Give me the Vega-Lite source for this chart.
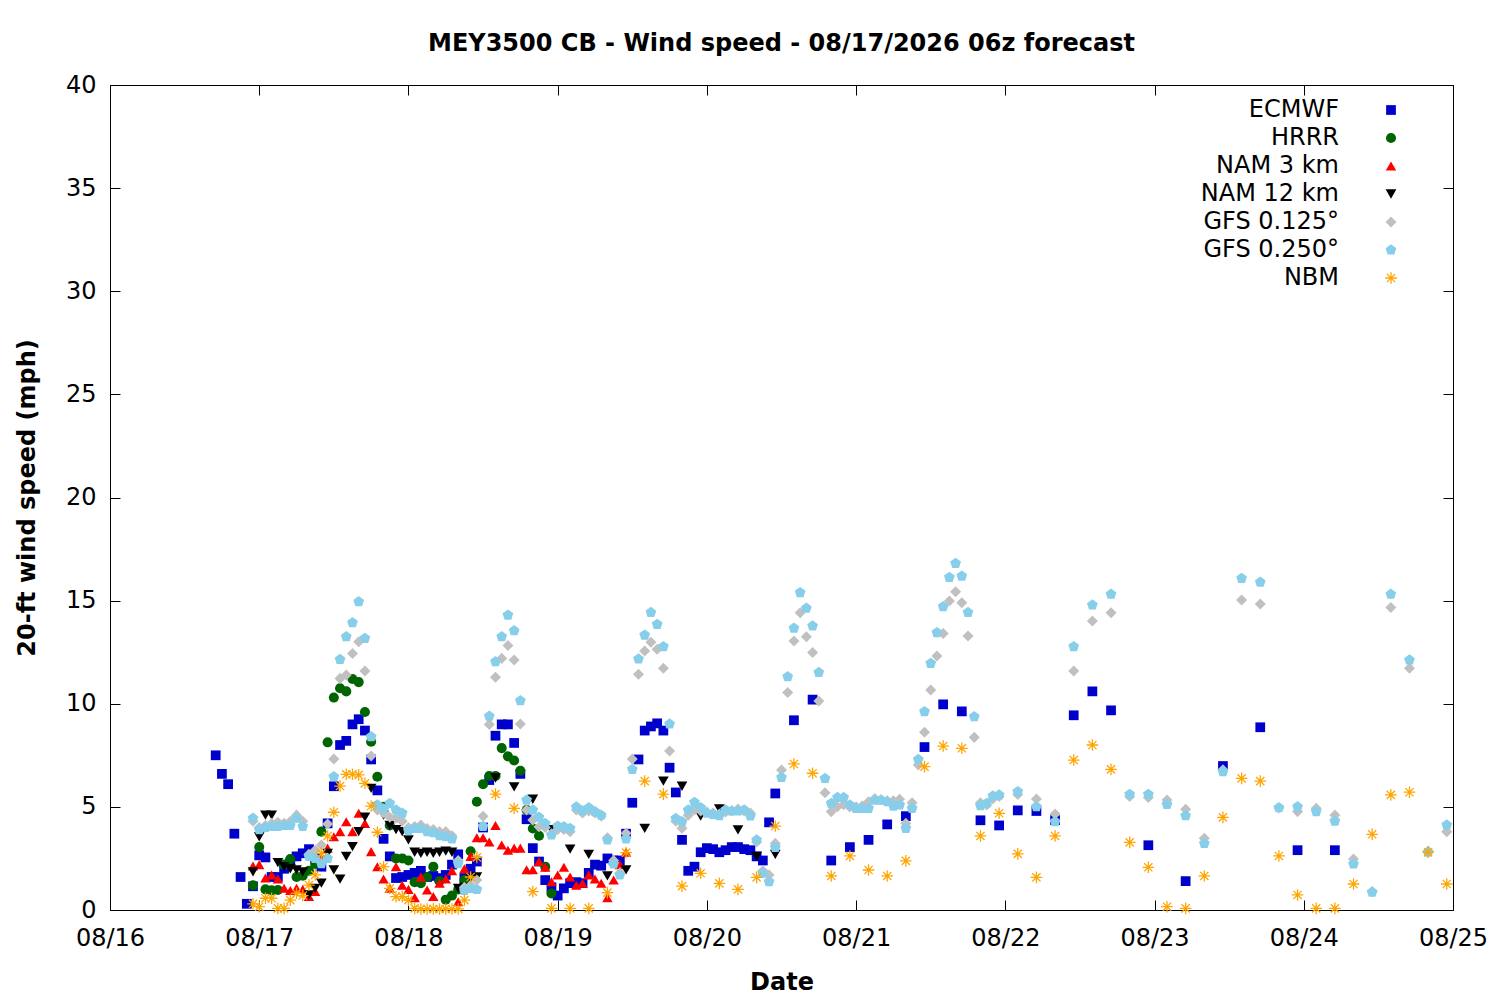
{
  "$schema": "https://vega.github.io/schema/vega-lite/v6.json",
  "width": 1343,
  "height": 825,
  "autosize": {"type": "none"},
  "padding": {"left": 110, "top": 85, "right": 47, "bottom": 90},
  "background": "white",
  "title": {"text": "MEY3500 CB - Wind speed - 08/17/2026 06z forecast", "font": "DejaVu Sans", "fontSize": 24, "fontWeight": "bold", "color": "black", "anchor": "middle", "offset": 17},
  "config": {
    "font": "DejaVu Sans",
    "view": {"stroke": "black", "strokeWidth": 1},
    "axis": {"labelFont": "DejaVu Sans", "labelFontSize": 24, "labelColor": "black", "titleFont": "DejaVu Sans", "titleFontSize": 24, "titleFontWeight": "bold", "titleColor": "black", "grid": false, "domain": false, "tickColor": "black", "tickSize": -10, "tickWidth": 1}
  },
  "data": {
    "format": {"parse": {"t": "utc:'%Y-%m-%d %H'"}},
    "values": [
      {"m":"ECMWF","t":"2026-08-16 17","v":7.5},{"m":"ECMWF","t":"2026-08-16 18","v":6.6},{"m":"ECMWF","t":"2026-08-16 19","v":6.1},{"m":"ECMWF","t":"2026-08-16 20","v":3.7},{"m":"ECMWF","t":"2026-08-16 21","v":1.6},{"m":"ECMWF","t":"2026-08-16 22","v":0.3},{"m":"ECMWF","t":"2026-08-16 23","v":1.15},
      {"m":"ECMWF","t":"2026-08-17 00","v":2.65},{"m":"ECMWF","t":"2026-08-17 01","v":2.55},{"m":"ECMWF","t":"2026-08-17 02","v":1.6},{"m":"ECMWF","t":"2026-08-17 03","v":1.6},{"m":"ECMWF","t":"2026-08-17 04","v":2.0},{"m":"ECMWF","t":"2026-08-17 05","v":2.3},{"m":"ECMWF","t":"2026-08-17 06","v":2.6},{"m":"ECMWF","t":"2026-08-17 07","v":2.75},{"m":"ECMWF","t":"2026-08-17 08","v":2.95},{"m":"ECMWF","t":"2026-08-17 09","v":2.5},{"m":"ECMWF","t":"2026-08-17 10","v":2.1},{"m":"ECMWF","t":"2026-08-17 11","v":4.2},{"m":"ECMWF","t":"2026-08-17 12","v":6.0},{"m":"ECMWF","t":"2026-08-17 13","v":8.0},{"m":"ECMWF","t":"2026-08-17 14","v":8.2},{"m":"ECMWF","t":"2026-08-17 15","v":9.0},{"m":"ECMWF","t":"2026-08-17 16","v":9.25},{"m":"ECMWF","t":"2026-08-17 17","v":8.7},{"m":"ECMWF","t":"2026-08-17 18","v":7.3},{"m":"ECMWF","t":"2026-08-17 19","v":5.8},{"m":"ECMWF","t":"2026-08-17 20","v":3.45},{"m":"ECMWF","t":"2026-08-17 21","v":2.6},{"m":"ECMWF","t":"2026-08-17 22","v":1.55},{"m":"ECMWF","t":"2026-08-17 23","v":1.6},
      {"m":"ECMWF","t":"2026-08-18 00","v":1.7},{"m":"ECMWF","t":"2026-08-18 01","v":1.8},{"m":"ECMWF","t":"2026-08-18 02","v":1.9},{"m":"ECMWF","t":"2026-08-18 03","v":1.6},{"m":"ECMWF","t":"2026-08-18 04","v":1.65},{"m":"ECMWF","t":"2026-08-18 05","v":1.55},{"m":"ECMWF","t":"2026-08-18 06","v":1.7},{"m":"ECMWF","t":"2026-08-18 07","v":2.2},{"m":"ECMWF","t":"2026-08-18 08","v":2.7},{"m":"ECMWF","t":"2026-08-18 09","v":1.55},{"m":"ECMWF","t":"2026-08-18 10","v":2.0},{"m":"ECMWF","t":"2026-08-18 11","v":2.35},{"m":"ECMWF","t":"2026-08-18 12","v":4.0},{"m":"ECMWF","t":"2026-08-18 13","v":6.3},{"m":"ECMWF","t":"2026-08-18 14","v":8.45},{"m":"ECMWF","t":"2026-08-18 15","v":9.0},{"m":"ECMWF","t":"2026-08-18 16","v":9.0},{"m":"ECMWF","t":"2026-08-18 17","v":8.1},{"m":"ECMWF","t":"2026-08-18 18","v":6.6},{"m":"ECMWF","t":"2026-08-18 19","v":4.4},{"m":"ECMWF","t":"2026-08-18 20","v":3.0},{"m":"ECMWF","t":"2026-08-18 21","v":2.35},{"m":"ECMWF","t":"2026-08-18 22","v":1.45},{"m":"ECMWF","t":"2026-08-18 23","v":1.1},
      {"m":"ECMWF","t":"2026-08-19 00","v":0.7},{"m":"ECMWF","t":"2026-08-19 01","v":1.05},{"m":"ECMWF","t":"2026-08-19 02","v":1.3},{"m":"ECMWF","t":"2026-08-19 03","v":1.35},{"m":"ECMWF","t":"2026-08-19 04","v":1.3},{"m":"ECMWF","t":"2026-08-19 05","v":1.8},{"m":"ECMWF","t":"2026-08-19 06","v":2.2},{"m":"ECMWF","t":"2026-08-19 07","v":2.15},{"m":"ECMWF","t":"2026-08-19 08","v":2.5},{"m":"ECMWF","t":"2026-08-19 09","v":2.4},{"m":"ECMWF","t":"2026-08-19 10","v":2.4},{"m":"ECMWF","t":"2026-08-19 11","v":3.7},{"m":"ECMWF","t":"2026-08-19 12","v":5.2},{"m":"ECMWF","t":"2026-08-19 13","v":7.3},{"m":"ECMWF","t":"2026-08-19 14","v":8.7},{"m":"ECMWF","t":"2026-08-19 15","v":8.9},{"m":"ECMWF","t":"2026-08-19 16","v":9.05},{"m":"ECMWF","t":"2026-08-19 17","v":8.7},{"m":"ECMWF","t":"2026-08-19 18","v":6.9},{"m":"ECMWF","t":"2026-08-19 19","v":5.7},{"m":"ECMWF","t":"2026-08-19 20","v":3.4},{"m":"ECMWF","t":"2026-08-19 21","v":1.9},{"m":"ECMWF","t":"2026-08-19 22","v":2.1},{"m":"ECMWF","t":"2026-08-19 23","v":2.8},
      {"m":"ECMWF","t":"2026-08-20 00","v":3.0},{"m":"ECMWF","t":"2026-08-20 01","v":2.95},{"m":"ECMWF","t":"2026-08-20 02","v":2.8},{"m":"ECMWF","t":"2026-08-20 03","v":2.9},{"m":"ECMWF","t":"2026-08-20 04","v":3.05},{"m":"ECMWF","t":"2026-08-20 05","v":3.05},{"m":"ECMWF","t":"2026-08-20 06","v":2.95},{"m":"ECMWF","t":"2026-08-20 07","v":2.9},{"m":"ECMWF","t":"2026-08-20 08","v":2.6},{"m":"ECMWF","t":"2026-08-20 09","v":2.4},{"m":"ECMWF","t":"2026-08-20 10","v":4.25},{"m":"ECMWF","t":"2026-08-20 11","v":5.65},{"m":"ECMWF","t":"2026-08-20 14","v":9.2},{"m":"ECMWF","t":"2026-08-20 17","v":10.2},{"m":"ECMWF","t":"2026-08-20 20","v":2.4},{"m":"ECMWF","t":"2026-08-20 23","v":3.05},
      {"m":"ECMWF","t":"2026-08-21 02","v":3.4},{"m":"ECMWF","t":"2026-08-21 05","v":4.15},{"m":"ECMWF","t":"2026-08-21 08","v":4.55},{"m":"ECMWF","t":"2026-08-21 11","v":7.9},{"m":"ECMWF","t":"2026-08-21 14","v":9.97},{"m":"ECMWF","t":"2026-08-21 17","v":9.63},{"m":"ECMWF","t":"2026-08-21 20","v":4.35},{"m":"ECMWF","t":"2026-08-21 23","v":4.1},
      {"m":"ECMWF","t":"2026-08-22 02","v":4.83},{"m":"ECMWF","t":"2026-08-22 05","v":4.8},{"m":"ECMWF","t":"2026-08-22 08","v":4.36},{"m":"ECMWF","t":"2026-08-22 11","v":9.44},{"m":"ECMWF","t":"2026-08-22 14","v":10.6},{"m":"ECMWF","t":"2026-08-22 17","v":9.68},{"m":"ECMWF","t":"2026-08-22 23","v":3.14},
      {"m":"ECMWF","t":"2026-08-23 05","v":1.4},{"m":"ECMWF","t":"2026-08-23 11","v":6.98},{"m":"ECMWF","t":"2026-08-23 17","v":8.86},{"m":"ECMWF","t":"2026-08-23 23","v":2.9},{"m":"ECMWF","t":"2026-08-24 05","v":2.9},

      {"m":"HRRR","t":"2026-08-16 23","v":1.2},{"m":"HRRR","t":"2026-08-17 00","v":3.05},{"m":"HRRR","t":"2026-08-17 01","v":1.0},{"m":"HRRR","t":"2026-08-17 02","v":0.95},{"m":"HRRR","t":"2026-08-17 03","v":0.97},{"m":"HRRR","t":"2026-08-17 04","v":2.2},{"m":"HRRR","t":"2026-08-17 05","v":2.47},{"m":"HRRR","t":"2026-08-17 06","v":1.6},{"m":"HRRR","t":"2026-08-17 07","v":1.66},{"m":"HRRR","t":"2026-08-17 08","v":1.9},{"m":"HRRR","t":"2026-08-17 09","v":2.23},{"m":"HRRR","t":"2026-08-17 10","v":3.8},{"m":"HRRR","t":"2026-08-17 11","v":8.13},{"m":"HRRR","t":"2026-08-17 12","v":10.3},{"m":"HRRR","t":"2026-08-17 13","v":10.75},{"m":"HRRR","t":"2026-08-17 14","v":10.6},{"m":"HRRR","t":"2026-08-17 15","v":11.2},{"m":"HRRR","t":"2026-08-17 16","v":11.05},{"m":"HRRR","t":"2026-08-17 17","v":9.6},{"m":"HRRR","t":"2026-08-17 18","v":8.16},{"m":"HRRR","t":"2026-08-17 19","v":6.46},{"m":"HRRR","t":"2026-08-17 20","v":5.0},{"m":"HRRR","t":"2026-08-17 21","v":4.1},{"m":"HRRR","t":"2026-08-17 22","v":2.5},{"m":"HRRR","t":"2026-08-17 23","v":2.5},
      {"m":"HRRR","t":"2026-08-18 00","v":2.4},{"m":"HRRR","t":"2026-08-18 01","v":1.35},{"m":"HRRR","t":"2026-08-18 02","v":1.3},{"m":"HRRR","t":"2026-08-18 03","v":1.6},{"m":"HRRR","t":"2026-08-18 04","v":2.1},{"m":"HRRR","t":"2026-08-18 05","v":1.4},{"m":"HRRR","t":"2026-08-18 06","v":0.5},{"m":"HRRR","t":"2026-08-18 07","v":0.7},{"m":"HRRR","t":"2026-08-18 08","v":1.0},{"m":"HRRR","t":"2026-08-18 09","v":1.45},{"m":"HRRR","t":"2026-08-18 10","v":2.85},{"m":"HRRR","t":"2026-08-18 11","v":5.25},{"m":"HRRR","t":"2026-08-18 12","v":6.1},{"m":"HRRR","t":"2026-08-18 13","v":6.5},{"m":"HRRR","t":"2026-08-18 14","v":6.5},{"m":"HRRR","t":"2026-08-18 15","v":7.85},{"m":"HRRR","t":"2026-08-18 16","v":7.45},{"m":"HRRR","t":"2026-08-18 17","v":7.25},{"m":"HRRR","t":"2026-08-18 18","v":6.75},{"m":"HRRR","t":"2026-08-18 19","v":4.85},{"m":"HRRR","t":"2026-08-18 20","v":3.95},{"m":"HRRR","t":"2026-08-18 21","v":3.6},{"m":"HRRR","t":"2026-08-18 22","v":2.1},{"m":"HRRR","t":"2026-08-18 23","v":0.8},

      {"m":"NAM 3 km","t":"2026-08-16 23","v":2.13},{"m":"NAM 3 km","t":"2026-08-17 00","v":2.2},{"m":"NAM 3 km","t":"2026-08-17 01","v":1.55},{"m":"NAM 3 km","t":"2026-08-17 02","v":1.7},{"m":"NAM 3 km","t":"2026-08-17 03","v":1.5},{"m":"NAM 3 km","t":"2026-08-17 04","v":1.05},{"m":"NAM 3 km","t":"2026-08-17 05","v":0.95},{"m":"NAM 3 km","t":"2026-08-17 06","v":1.05},{"m":"NAM 3 km","t":"2026-08-17 07","v":1.0},{"m":"NAM 3 km","t":"2026-08-17 08","v":0.65},{"m":"NAM 3 km","t":"2026-08-17 09","v":0.9},{"m":"NAM 3 km","t":"2026-08-17 10","v":2.5},{"m":"NAM 3 km","t":"2026-08-17 11","v":3.0},{"m":"NAM 3 km","t":"2026-08-17 12","v":3.55},{"m":"NAM 3 km","t":"2026-08-17 13","v":3.8},{"m":"NAM 3 km","t":"2026-08-17 14","v":4.28},{"m":"NAM 3 km","t":"2026-08-17 15","v":3.8},{"m":"NAM 3 km","t":"2026-08-17 16","v":4.69},{"m":"NAM 3 km","t":"2026-08-17 17","v":4.2},{"m":"NAM 3 km","t":"2026-08-17 18","v":2.83},{"m":"NAM 3 km","t":"2026-08-17 19","v":2.1},{"m":"NAM 3 km","t":"2026-08-17 20","v":1.5},{"m":"NAM 3 km","t":"2026-08-17 21","v":1.05},{"m":"NAM 3 km","t":"2026-08-17 22","v":2.1},{"m":"NAM 3 km","t":"2026-08-17 23","v":1.2},
      {"m":"NAM 3 km","t":"2026-08-18 00","v":1.0},{"m":"NAM 3 km","t":"2026-08-18 01","v":0.6},{"m":"NAM 3 km","t":"2026-08-18 02","v":1.6},{"m":"NAM 3 km","t":"2026-08-18 03","v":0.97},{"m":"NAM 3 km","t":"2026-08-18 04","v":0.65},{"m":"NAM 3 km","t":"2026-08-18 05","v":1.3},{"m":"NAM 3 km","t":"2026-08-18 06","v":1.5},{"m":"NAM 3 km","t":"2026-08-18 07","v":1.9},{"m":"NAM 3 km","t":"2026-08-18 08","v":0.4},{"m":"NAM 3 km","t":"2026-08-18 09","v":2.0},{"m":"NAM 3 km","t":"2026-08-18 10","v":2.6},{"m":"NAM 3 km","t":"2026-08-18 11","v":3.5},{"m":"NAM 3 km","t":"2026-08-18 12","v":3.5},{"m":"NAM 3 km","t":"2026-08-18 13","v":3.3},{"m":"NAM 3 km","t":"2026-08-18 14","v":4.1},{"m":"NAM 3 km","t":"2026-08-18 15","v":3.15},{"m":"NAM 3 km","t":"2026-08-18 16","v":2.9},{"m":"NAM 3 km","t":"2026-08-18 17","v":3.0},{"m":"NAM 3 km","t":"2026-08-18 18","v":3.0},{"m":"NAM 3 km","t":"2026-08-18 19","v":1.95},{"m":"NAM 3 km","t":"2026-08-18 20","v":1.95},{"m":"NAM 3 km","t":"2026-08-18 21","v":2.35},{"m":"NAM 3 km","t":"2026-08-18 22","v":2.07},{"m":"NAM 3 km","t":"2026-08-18 23","v":1.37},
      {"m":"NAM 3 km","t":"2026-08-19 00","v":1.7},{"m":"NAM 3 km","t":"2026-08-19 01","v":2.07},{"m":"NAM 3 km","t":"2026-08-19 02","v":1.6},{"m":"NAM 3 km","t":"2026-08-19 03","v":1.2},{"m":"NAM 3 km","t":"2026-08-19 04","v":1.3},{"m":"NAM 3 km","t":"2026-08-19 05","v":1.7},{"m":"NAM 3 km","t":"2026-08-19 06","v":1.5},{"m":"NAM 3 km","t":"2026-08-19 07","v":1.3},{"m":"NAM 3 km","t":"2026-08-19 08","v":0.6},{"m":"NAM 3 km","t":"2026-08-19 09","v":1.45},{"m":"NAM 3 km","t":"2026-08-19 10","v":2.2},{"m":"NAM 3 km","t":"2026-08-19 11","v":2.8},

      {"m":"NAM 12 km","t":"2026-08-16 23","v":1.85},{"m":"NAM 12 km","t":"2026-08-17 00","v":3.55},{"m":"NAM 12 km","t":"2026-08-17 01","v":4.6},{"m":"NAM 12 km","t":"2026-08-17 02","v":4.6},{"m":"NAM 12 km","t":"2026-08-17 03","v":2.3},{"m":"NAM 12 km","t":"2026-08-17 04","v":2.1},{"m":"NAM 12 km","t":"2026-08-17 05","v":2.0},{"m":"NAM 12 km","t":"2026-08-17 06","v":1.95},{"m":"NAM 12 km","t":"2026-08-17 07","v":1.85},{"m":"NAM 12 km","t":"2026-08-17 08","v":0.73},{"m":"NAM 12 km","t":"2026-08-17 09","v":1.05},{"m":"NAM 12 km","t":"2026-08-17 10","v":1.3},{"m":"NAM 12 km","t":"2026-08-17 11","v":2.75},{"m":"NAM 12 km","t":"2026-08-17 12","v":1.95},{"m":"NAM 12 km","t":"2026-08-17 13","v":1.5},{"m":"NAM 12 km","t":"2026-08-17 14","v":2.6},{"m":"NAM 12 km","t":"2026-08-17 15","v":3.07},{"m":"NAM 12 km","t":"2026-08-17 16","v":3.8},{"m":"NAM 12 km","t":"2026-08-17 17","v":4.5},{"m":"NAM 12 km","t":"2026-08-17 18","v":5.9},{"m":"NAM 12 km","t":"2026-08-17 19","v":5.0},{"m":"NAM 12 km","t":"2026-08-17 20","v":4.6},{"m":"NAM 12 km","t":"2026-08-17 21","v":4.1},{"m":"NAM 12 km","t":"2026-08-17 22","v":3.9},{"m":"NAM 12 km","t":"2026-08-17 23","v":3.8},
      {"m":"NAM 12 km","t":"2026-08-18 00","v":3.4},{"m":"NAM 12 km","t":"2026-08-18 01","v":2.8},{"m":"NAM 12 km","t":"2026-08-18 02","v":2.75},{"m":"NAM 12 km","t":"2026-08-18 03","v":2.8},{"m":"NAM 12 km","t":"2026-08-18 04","v":2.75},{"m":"NAM 12 km","t":"2026-08-18 05","v":2.8},{"m":"NAM 12 km","t":"2026-08-18 06","v":2.85},{"m":"NAM 12 km","t":"2026-08-18 07","v":2.8},{"m":"NAM 12 km","t":"2026-08-18 08","v":1.05},{"m":"NAM 12 km","t":"2026-08-18 09","v":1.1},{"m":"NAM 12 km","t":"2026-08-18 10","v":1.55},{"m":"NAM 12 km","t":"2026-08-18 11","v":1.6},{"m":"NAM 12 km","t":"2026-08-18 14","v":6.4},{"m":"NAM 12 km","t":"2026-08-18 17","v":5.97},{"m":"NAM 12 km","t":"2026-08-18 20","v":5.37},{"m":"NAM 12 km","t":"2026-08-18 23","v":3.9},
      {"m":"NAM 12 km","t":"2026-08-19 02","v":2.95},{"m":"NAM 12 km","t":"2026-08-19 05","v":2.7},{"m":"NAM 12 km","t":"2026-08-19 08","v":1.65},{"m":"NAM 12 km","t":"2026-08-19 11","v":1.95},{"m":"NAM 12 km","t":"2026-08-19 14","v":3.96},{"m":"NAM 12 km","t":"2026-08-19 17","v":6.25},{"m":"NAM 12 km","t":"2026-08-19 20","v":6.0},{"m":"NAM 12 km","t":"2026-08-19 23","v":4.55},{"m":"NAM 12 km","t":"2026-08-20 02","v":4.9},{"m":"NAM 12 km","t":"2026-08-20 05","v":3.88},{"m":"NAM 12 km","t":"2026-08-20 08","v":2.6},{"m":"NAM 12 km","t":"2026-08-20 11","v":2.7},

      {"m":"GFS 0.125°","t":"2026-08-16 23","v":4.3},{"m":"GFS 0.125°","t":"2026-08-17 00","v":4.0},{"m":"GFS 0.125°","t":"2026-08-17 01","v":4.1},{"m":"GFS 0.125°","t":"2026-08-17 02","v":4.2},{"m":"GFS 0.125°","t":"2026-08-17 03","v":4.25},{"m":"GFS 0.125°","t":"2026-08-17 04","v":4.2},{"m":"GFS 0.125°","t":"2026-08-17 05","v":4.3},{"m":"GFS 0.125°","t":"2026-08-17 06","v":4.6},{"m":"GFS 0.125°","t":"2026-08-17 07","v":4.3},{"m":"GFS 0.125°","t":"2026-08-17 08","v":2.7},{"m":"GFS 0.125°","t":"2026-08-17 09","v":2.9},{"m":"GFS 0.125°","t":"2026-08-17 10","v":3.15},{"m":"GFS 0.125°","t":"2026-08-17 11","v":4.17},{"m":"GFS 0.125°","t":"2026-08-17 12","v":7.32},{"m":"GFS 0.125°","t":"2026-08-17 13","v":11.23},{"m":"GFS 0.125°","t":"2026-08-17 14","v":11.39},{"m":"GFS 0.125°","t":"2026-08-17 15","v":12.44},{"m":"GFS 0.125°","t":"2026-08-17 16","v":13.01},{"m":"GFS 0.125°","t":"2026-08-17 17","v":11.59},{"m":"GFS 0.125°","t":"2026-08-17 18","v":7.47},{"m":"GFS 0.125°","t":"2026-08-17 19","v":4.85},{"m":"GFS 0.125°","t":"2026-08-17 20","v":4.7},{"m":"GFS 0.125°","t":"2026-08-17 21","v":4.5},{"m":"GFS 0.125°","t":"2026-08-17 22","v":4.45},{"m":"GFS 0.125°","t":"2026-08-17 23","v":4.3},
      {"m":"GFS 0.125°","t":"2026-08-18 00","v":4.0},{"m":"GFS 0.125°","t":"2026-08-18 01","v":4.05},{"m":"GFS 0.125°","t":"2026-08-18 02","v":4.12},{"m":"GFS 0.125°","t":"2026-08-18 03","v":3.95},{"m":"GFS 0.125°","t":"2026-08-18 04","v":3.9},{"m":"GFS 0.125°","t":"2026-08-18 05","v":3.8},{"m":"GFS 0.125°","t":"2026-08-18 06","v":3.8},{"m":"GFS 0.125°","t":"2026-08-18 07","v":3.6},{"m":"GFS 0.125°","t":"2026-08-18 08","v":2.4},{"m":"GFS 0.125°","t":"2026-08-18 09","v":1.1},{"m":"GFS 0.125°","t":"2026-08-18 10","v":1.2},{"m":"GFS 0.125°","t":"2026-08-18 11","v":1.45},{"m":"GFS 0.125°","t":"2026-08-18 12","v":4.55},{"m":"GFS 0.125°","t":"2026-08-18 13","v":9.0},{"m":"GFS 0.125°","t":"2026-08-18 14","v":11.28},{"m":"GFS 0.125°","t":"2026-08-18 15","v":12.2},{"m":"GFS 0.125°","t":"2026-08-18 16","v":12.82},{"m":"GFS 0.125°","t":"2026-08-18 17","v":12.12},{"m":"GFS 0.125°","t":"2026-08-18 18","v":9.02},{"m":"GFS 0.125°","t":"2026-08-18 19","v":4.85},{"m":"GFS 0.125°","t":"2026-08-18 20","v":4.36},{"m":"GFS 0.125°","t":"2026-08-18 21","v":4.04},{"m":"GFS 0.125°","t":"2026-08-18 22","v":4.0},{"m":"GFS 0.125°","t":"2026-08-18 23","v":3.7},
      {"m":"GFS 0.125°","t":"2026-08-19 00","v":3.9},{"m":"GFS 0.125°","t":"2026-08-19 01","v":3.9},{"m":"GFS 0.125°","t":"2026-08-19 02","v":3.8},{"m":"GFS 0.125°","t":"2026-08-19 03","v":4.85},{"m":"GFS 0.125°","t":"2026-08-19 04","v":4.7},{"m":"GFS 0.125°","t":"2026-08-19 05","v":4.8},{"m":"GFS 0.125°","t":"2026-08-19 06","v":4.7},{"m":"GFS 0.125°","t":"2026-08-19 07","v":4.55},{"m":"GFS 0.125°","t":"2026-08-19 08","v":3.5},{"m":"GFS 0.125°","t":"2026-08-19 09","v":2.4},{"m":"GFS 0.125°","t":"2026-08-19 10","v":1.8},{"m":"GFS 0.125°","t":"2026-08-19 11","v":3.72},{"m":"GFS 0.125°","t":"2026-08-19 12","v":7.32},{"m":"GFS 0.125°","t":"2026-08-19 13","v":11.43},{"m":"GFS 0.125°","t":"2026-08-19 14","v":12.56},{"m":"GFS 0.125°","t":"2026-08-19 15","v":12.98},{"m":"GFS 0.125°","t":"2026-08-19 16","v":12.64},{"m":"GFS 0.125°","t":"2026-08-19 17","v":11.72},{"m":"GFS 0.125°","t":"2026-08-19 18","v":7.71},{"m":"GFS 0.125°","t":"2026-08-19 19","v":4.3},{"m":"GFS 0.125°","t":"2026-08-19 20","v":3.96},{"m":"GFS 0.125°","t":"2026-08-19 21","v":4.6},{"m":"GFS 0.125°","t":"2026-08-19 22","v":4.85},{"m":"GFS 0.125°","t":"2026-08-19 23","v":4.8},
      {"m":"GFS 0.125°","t":"2026-08-20 00","v":4.75},{"m":"GFS 0.125°","t":"2026-08-20 01","v":4.7},{"m":"GFS 0.125°","t":"2026-08-20 02","v":4.65},{"m":"GFS 0.125°","t":"2026-08-20 03","v":4.75},{"m":"GFS 0.125°","t":"2026-08-20 04","v":4.8},{"m":"GFS 0.125°","t":"2026-08-20 05","v":4.9},{"m":"GFS 0.125°","t":"2026-08-20 06","v":4.8},{"m":"GFS 0.125°","t":"2026-08-20 07","v":4.7},{"m":"GFS 0.125°","t":"2026-08-20 08","v":3.3},{"m":"GFS 0.125°","t":"2026-08-20 09","v":1.9},{"m":"GFS 0.125°","t":"2026-08-20 10","v":1.7},{"m":"GFS 0.125°","t":"2026-08-20 11","v":3.23},{"m":"GFS 0.125°","t":"2026-08-20 12","v":6.79},{"m":"GFS 0.125°","t":"2026-08-20 13","v":10.55},{"m":"GFS 0.125°","t":"2026-08-20 14","v":13.04},{"m":"GFS 0.125°","t":"2026-08-20 15","v":14.41},{"m":"GFS 0.125°","t":"2026-08-20 16","v":13.25},{"m":"GFS 0.125°","t":"2026-08-20 17","v":12.49},{"m":"GFS 0.125°","t":"2026-08-20 18","v":10.13},{"m":"GFS 0.125°","t":"2026-08-20 19","v":5.69},{"m":"GFS 0.125°","t":"2026-08-20 20","v":4.77},{"m":"GFS 0.125°","t":"2026-08-20 21","v":5.01},{"m":"GFS 0.125°","t":"2026-08-20 22","v":5.1},{"m":"GFS 0.125°","t":"2026-08-20 23","v":5.0},
      {"m":"GFS 0.125°","t":"2026-08-21 00","v":5.0},{"m":"GFS 0.125°","t":"2026-08-21 01","v":5.05},{"m":"GFS 0.125°","t":"2026-08-21 02","v":5.25},{"m":"GFS 0.125°","t":"2026-08-21 03","v":5.41},{"m":"GFS 0.125°","t":"2026-08-21 04","v":5.35},{"m":"GFS 0.125°","t":"2026-08-21 05","v":5.3},{"m":"GFS 0.125°","t":"2026-08-21 06","v":5.3},{"m":"GFS 0.125°","t":"2026-08-21 07","v":5.37},{"m":"GFS 0.125°","t":"2026-08-21 08","v":4.2},{"m":"GFS 0.125°","t":"2026-08-21 09","v":5.2},{"m":"GFS 0.125°","t":"2026-08-21 10","v":7.03},{"m":"GFS 0.125°","t":"2026-08-21 11","v":8.62},{"m":"GFS 0.125°","t":"2026-08-21 12","v":10.67},{"m":"GFS 0.125°","t":"2026-08-21 13","v":12.31},{"m":"GFS 0.125°","t":"2026-08-21 14","v":13.41},{"m":"GFS 0.125°","t":"2026-08-21 15","v":14.98},{"m":"GFS 0.125°","t":"2026-08-21 16","v":15.43},{"m":"GFS 0.125°","t":"2026-08-21 17","v":14.9},{"m":"GFS 0.125°","t":"2026-08-21 18","v":13.28},{"m":"GFS 0.125°","t":"2026-08-21 19","v":8.37},{"m":"GFS 0.125°","t":"2026-08-21 20","v":5.2},{"m":"GFS 0.125°","t":"2026-08-21 21","v":5.09},{"m":"GFS 0.125°","t":"2026-08-21 22","v":5.4},{"m":"GFS 0.125°","t":"2026-08-21 23","v":5.5},
      {"m":"GFS 0.125°","t":"2026-08-22 02","v":5.6},{"m":"GFS 0.125°","t":"2026-08-22 05","v":5.38},{"m":"GFS 0.125°","t":"2026-08-22 08","v":4.65},{"m":"GFS 0.125°","t":"2026-08-22 11","v":11.59},{"m":"GFS 0.125°","t":"2026-08-22 14","v":14.01},{"m":"GFS 0.125°","t":"2026-08-22 17","v":14.41},{"m":"GFS 0.125°","t":"2026-08-22 20","v":5.5},{"m":"GFS 0.125°","t":"2026-08-22 23","v":5.45},
      {"m":"GFS 0.125°","t":"2026-08-23 02","v":5.33},{"m":"GFS 0.125°","t":"2026-08-23 05","v":4.88},{"m":"GFS 0.125°","t":"2026-08-23 08","v":3.48},{"m":"GFS 0.125°","t":"2026-08-23 11","v":6.8},{"m":"GFS 0.125°","t":"2026-08-23 14","v":15.03},{"m":"GFS 0.125°","t":"2026-08-23 17","v":14.84},{"m":"GFS 0.125°","t":"2026-08-23 20","v":4.95},{"m":"GFS 0.125°","t":"2026-08-23 23","v":4.77},
      {"m":"GFS 0.125°","t":"2026-08-24 02","v":4.93},{"m":"GFS 0.125°","t":"2026-08-24 05","v":4.6},{"m":"GFS 0.125°","t":"2026-08-24 08","v":2.47},{"m":"GFS 0.125°","t":"2026-08-24 11","v":0.9},{"m":"GFS 0.125°","t":"2026-08-24 14","v":14.67},{"m":"GFS 0.125°","t":"2026-08-24 17","v":11.72},{"m":"GFS 0.125°","t":"2026-08-24 20","v":2.86},{"m":"GFS 0.125°","t":"2026-08-24 23","v":3.8},

      {"m":"GFS 0.250°","t":"2026-08-16 23","v":4.45},{"m":"GFS 0.250°","t":"2026-08-17 00","v":3.9},{"m":"GFS 0.250°","t":"2026-08-17 01","v":4.0},{"m":"GFS 0.250°","t":"2026-08-17 02","v":4.05},{"m":"GFS 0.250°","t":"2026-08-17 03","v":4.05},{"m":"GFS 0.250°","t":"2026-08-17 04","v":4.1},{"m":"GFS 0.250°","t":"2026-08-17 05","v":4.1},{"m":"GFS 0.250°","t":"2026-08-17 06","v":4.45},{"m":"GFS 0.250°","t":"2026-08-17 07","v":4.05},{"m":"GFS 0.250°","t":"2026-08-17 08","v":2.6},{"m":"GFS 0.250°","t":"2026-08-17 09","v":2.5},{"m":"GFS 0.250°","t":"2026-08-17 10","v":2.25},{"m":"GFS 0.250°","t":"2026-08-17 11","v":2.5},{"m":"GFS 0.250°","t":"2026-08-17 12","v":6.46},{"m":"GFS 0.250°","t":"2026-08-17 13","v":12.15},{"m":"GFS 0.250°","t":"2026-08-17 14","v":13.25},{"m":"GFS 0.250°","t":"2026-08-17 15","v":13.93},{"m":"GFS 0.250°","t":"2026-08-17 16","v":14.95},{"m":"GFS 0.250°","t":"2026-08-17 17","v":13.17},{"m":"GFS 0.250°","t":"2026-08-17 18","v":8.4},{"m":"GFS 0.250°","t":"2026-08-17 19","v":5.1},{"m":"GFS 0.250°","t":"2026-08-17 20","v":4.9},{"m":"GFS 0.250°","t":"2026-08-17 21","v":5.17},{"m":"GFS 0.250°","t":"2026-08-17 22","v":4.85},{"m":"GFS 0.250°","t":"2026-08-17 23","v":4.7},
      {"m":"GFS 0.250°","t":"2026-08-18 00","v":3.85},{"m":"GFS 0.250°","t":"2026-08-18 01","v":3.95},{"m":"GFS 0.250°","t":"2026-08-18 02","v":3.95},{"m":"GFS 0.250°","t":"2026-08-18 03","v":3.8},{"m":"GFS 0.250°","t":"2026-08-18 04","v":3.75},{"m":"GFS 0.250°","t":"2026-08-18 05","v":3.6},{"m":"GFS 0.250°","t":"2026-08-18 06","v":3.55},{"m":"GFS 0.250°","t":"2026-08-18 07","v":3.45},{"m":"GFS 0.250°","t":"2026-08-18 08","v":2.25},{"m":"GFS 0.250°","t":"2026-08-18 09","v":0.95},{"m":"GFS 0.250°","t":"2026-08-18 10","v":1.05},{"m":"GFS 0.250°","t":"2026-08-18 11","v":1.0},{"m":"GFS 0.250°","t":"2026-08-18 12","v":4.05},{"m":"GFS 0.250°","t":"2026-08-18 13","v":9.4},{"m":"GFS 0.250°","t":"2026-08-18 14","v":12.04},{"m":"GFS 0.250°","t":"2026-08-18 15","v":13.25},{"m":"GFS 0.250°","t":"2026-08-18 16","v":14.3},{"m":"GFS 0.250°","t":"2026-08-18 17","v":13.54},{"m":"GFS 0.250°","t":"2026-08-18 18","v":10.15},{"m":"GFS 0.250°","t":"2026-08-18 19","v":5.33},{"m":"GFS 0.250°","t":"2026-08-18 20","v":4.85},{"m":"GFS 0.250°","t":"2026-08-18 21","v":4.5},{"m":"GFS 0.250°","t":"2026-08-18 22","v":4.2},{"m":"GFS 0.250°","t":"2026-08-18 23","v":3.64},
      {"m":"GFS 0.250°","t":"2026-08-19 00","v":4.07},{"m":"GFS 0.250°","t":"2026-08-19 01","v":4.04},{"m":"GFS 0.250°","t":"2026-08-19 02","v":3.96},{"m":"GFS 0.250°","t":"2026-08-19 03","v":5.0},{"m":"GFS 0.250°","t":"2026-08-19 04","v":4.8},{"m":"GFS 0.250°","t":"2026-08-19 05","v":4.96},{"m":"GFS 0.250°","t":"2026-08-19 06","v":4.77},{"m":"GFS 0.250°","t":"2026-08-19 07","v":4.6},{"m":"GFS 0.250°","t":"2026-08-19 08","v":3.4},{"m":"GFS 0.250°","t":"2026-08-19 09","v":2.23},{"m":"GFS 0.250°","t":"2026-08-19 10","v":1.7},{"m":"GFS 0.250°","t":"2026-08-19 11","v":3.45},{"m":"GFS 0.250°","t":"2026-08-19 12","v":6.82},{"m":"GFS 0.250°","t":"2026-08-19 13","v":12.17},{"m":"GFS 0.250°","t":"2026-08-19 14","v":13.33},{"m":"GFS 0.250°","t":"2026-08-19 15","v":14.43},{"m":"GFS 0.250°","t":"2026-08-19 16","v":13.85},{"m":"GFS 0.250°","t":"2026-08-19 17","v":12.77},{"m":"GFS 0.250°","t":"2026-08-19 18","v":9.02},{"m":"GFS 0.250°","t":"2026-08-19 19","v":4.44},{"m":"GFS 0.250°","t":"2026-08-19 20","v":4.28},{"m":"GFS 0.250°","t":"2026-08-19 21","v":4.85},{"m":"GFS 0.250°","t":"2026-08-19 22","v":5.22},{"m":"GFS 0.250°","t":"2026-08-19 23","v":4.96},
      {"m":"GFS 0.250°","t":"2026-08-20 00","v":4.69},{"m":"GFS 0.250°","t":"2026-08-20 01","v":4.64},{"m":"GFS 0.250°","t":"2026-08-20 02","v":4.57},{"m":"GFS 0.250°","t":"2026-08-20 03","v":4.85},{"m":"GFS 0.250°","t":"2026-08-20 04","v":4.8},{"m":"GFS 0.250°","t":"2026-08-20 05","v":4.8},{"m":"GFS 0.250°","t":"2026-08-20 06","v":4.85},{"m":"GFS 0.250°","t":"2026-08-20 07","v":4.56},{"m":"GFS 0.250°","t":"2026-08-20 08","v":3.4},{"m":"GFS 0.250°","t":"2026-08-20 09","v":1.78},{"m":"GFS 0.250°","t":"2026-08-20 10","v":1.37},{"m":"GFS 0.250°","t":"2026-08-20 11","v":3.04},{"m":"GFS 0.250°","t":"2026-08-20 12","v":6.43},{"m":"GFS 0.250°","t":"2026-08-20 13","v":11.31},{"m":"GFS 0.250°","t":"2026-08-20 14","v":13.66},{"m":"GFS 0.250°","t":"2026-08-20 15","v":15.39},{"m":"GFS 0.250°","t":"2026-08-20 16","v":14.63},{"m":"GFS 0.250°","t":"2026-08-20 17","v":13.77},{"m":"GFS 0.250°","t":"2026-08-20 18","v":11.52},{"m":"GFS 0.250°","t":"2026-08-20 19","v":6.38},{"m":"GFS 0.250°","t":"2026-08-20 20","v":5.17},{"m":"GFS 0.250°","t":"2026-08-20 21","v":5.46},{"m":"GFS 0.250°","t":"2026-08-20 22","v":5.46},{"m":"GFS 0.250°","t":"2026-08-20 23","v":5.09},
      {"m":"GFS 0.250°","t":"2026-08-21 00","v":4.93},{"m":"GFS 0.250°","t":"2026-08-21 01","v":4.93},{"m":"GFS 0.250°","t":"2026-08-21 02","v":4.93},{"m":"GFS 0.250°","t":"2026-08-21 03","v":5.33},{"m":"GFS 0.250°","t":"2026-08-21 04","v":5.33},{"m":"GFS 0.250°","t":"2026-08-21 05","v":5.25},{"m":"GFS 0.250°","t":"2026-08-21 06","v":5.04},{"m":"GFS 0.250°","t":"2026-08-21 07","v":5.09},{"m":"GFS 0.250°","t":"2026-08-21 08","v":3.96},{"m":"GFS 0.250°","t":"2026-08-21 09","v":4.93},{"m":"GFS 0.250°","t":"2026-08-21 10","v":7.3},{"m":"GFS 0.250°","t":"2026-08-21 11","v":9.62},{"m":"GFS 0.250°","t":"2026-08-21 12","v":11.96},{"m":"GFS 0.250°","t":"2026-08-21 13","v":13.45},{"m":"GFS 0.250°","t":"2026-08-21 14","v":14.71},{"m":"GFS 0.250°","t":"2026-08-21 15","v":16.13},{"m":"GFS 0.250°","t":"2026-08-21 16","v":16.81},{"m":"GFS 0.250°","t":"2026-08-21 17","v":16.19},{"m":"GFS 0.250°","t":"2026-08-21 18","v":14.43},{"m":"GFS 0.250°","t":"2026-08-21 19","v":9.37},{"m":"GFS 0.250°","t":"2026-08-21 20","v":5.06},{"m":"GFS 0.250°","t":"2026-08-21 21","v":5.17},{"m":"GFS 0.250°","t":"2026-08-21 22","v":5.53},{"m":"GFS 0.250°","t":"2026-08-21 23","v":5.58},
      {"m":"GFS 0.250°","t":"2026-08-22 02","v":5.74},{"m":"GFS 0.250°","t":"2026-08-22 05","v":5.01},{"m":"GFS 0.250°","t":"2026-08-22 08","v":4.28},{"m":"GFS 0.250°","t":"2026-08-22 11","v":12.77},{"m":"GFS 0.250°","t":"2026-08-22 14","v":14.79},{"m":"GFS 0.250°","t":"2026-08-22 17","v":15.31},{"m":"GFS 0.250°","t":"2026-08-22 20","v":5.61},{"m":"GFS 0.250°","t":"2026-08-22 23","v":5.61},
      {"m":"GFS 0.250°","t":"2026-08-23 02","v":5.12},{"m":"GFS 0.250°","t":"2026-08-23 05","v":4.57},{"m":"GFS 0.250°","t":"2026-08-23 08","v":3.23},{"m":"GFS 0.250°","t":"2026-08-23 11","v":6.71},{"m":"GFS 0.250°","t":"2026-08-23 14","v":16.08},{"m":"GFS 0.250°","t":"2026-08-23 17","v":15.89},{"m":"GFS 0.250°","t":"2026-08-23 20","v":4.96},{"m":"GFS 0.250°","t":"2026-08-23 23","v":5.01},
      {"m":"GFS 0.250°","t":"2026-08-24 02","v":4.77},{"m":"GFS 0.250°","t":"2026-08-24 05","v":4.31},{"m":"GFS 0.250°","t":"2026-08-24 08","v":2.23},{"m":"GFS 0.250°","t":"2026-08-24 11","v":0.86},{"m":"GFS 0.250°","t":"2026-08-24 14","v":15.31},{"m":"GFS 0.250°","t":"2026-08-24 17","v":12.12},{"m":"GFS 0.250°","t":"2026-08-24 20","v":2.8},{"m":"GFS 0.250°","t":"2026-08-24 23","v":4.12},

      {"m":"NBM","t":"2026-08-16 23","v":0.3},{"m":"NBM","t":"2026-08-17 00","v":0.16},{"m":"NBM","t":"2026-08-17 01","v":0.57},{"m":"NBM","t":"2026-08-17 02","v":0.57},{"m":"NBM","t":"2026-08-17 03","v":0.08},{"m":"NBM","t":"2026-08-17 04","v":0.08},{"m":"NBM","t":"2026-08-17 05","v":0.48},{"m":"NBM","t":"2026-08-17 06","v":0.81},{"m":"NBM","t":"2026-08-17 07","v":0.7},{"m":"NBM","t":"2026-08-17 08","v":1.21},{"m":"NBM","t":"2026-08-17 09","v":1.7},{"m":"NBM","t":"2026-08-17 10","v":2.75},{"m":"NBM","t":"2026-08-17 11","v":3.59},{"m":"NBM","t":"2026-08-17 12","v":4.74},{"m":"NBM","t":"2026-08-17 13","v":6.01},{"m":"NBM","t":"2026-08-17 14","v":6.58},{"m":"NBM","t":"2026-08-17 15","v":6.58},{"m":"NBM","t":"2026-08-17 16","v":6.55},{"m":"NBM","t":"2026-08-17 17","v":6.14},{"m":"NBM","t":"2026-08-17 18","v":5.04},{"m":"NBM","t":"2026-08-17 19","v":3.77},{"m":"NBM","t":"2026-08-17 20","v":2.1},{"m":"NBM","t":"2026-08-17 21","v":1.05},{"m":"NBM","t":"2026-08-17 22","v":0.65},{"m":"NBM","t":"2026-08-17 23","v":0.65},
      {"m":"NBM","t":"2026-08-18 00","v":0.48},{"m":"NBM","t":"2026-08-18 01","v":0.08},{"m":"NBM","t":"2026-08-18 02","v":0.05},{"m":"NBM","t":"2026-08-18 03","v":0.05},{"m":"NBM","t":"2026-08-18 04","v":0.05},{"m":"NBM","t":"2026-08-18 05","v":0.05},{"m":"NBM","t":"2026-08-18 06","v":0.05},{"m":"NBM","t":"2026-08-18 07","v":0.05},{"m":"NBM","t":"2026-08-18 08","v":0.05},{"m":"NBM","t":"2026-08-18 09","v":0.48},{"m":"NBM","t":"2026-08-18 10","v":1.6},{"m":"NBM","t":"2026-08-18 11","v":2.55},{"m":"NBM","t":"2026-08-18 14","v":5.62},{"m":"NBM","t":"2026-08-18 17","v":4.93},{"m":"NBM","t":"2026-08-18 20","v":0.89},{"m":"NBM","t":"2026-08-18 23","v":0.08},
      {"m":"NBM","t":"2026-08-19 02","v":0.08},{"m":"NBM","t":"2026-08-19 05","v":0.08},{"m":"NBM","t":"2026-08-19 08","v":0.84},{"m":"NBM","t":"2026-08-19 11","v":2.78},{"m":"NBM","t":"2026-08-19 14","v":6.25},{"m":"NBM","t":"2026-08-19 17","v":5.62},{"m":"NBM","t":"2026-08-19 20","v":1.16},{"m":"NBM","t":"2026-08-19 23","v":1.78},
      {"m":"NBM","t":"2026-08-20 02","v":1.29},{"m":"NBM","t":"2026-08-20 05","v":1.0},{"m":"NBM","t":"2026-08-20 08","v":1.58},{"m":"NBM","t":"2026-08-20 11","v":4.07},{"m":"NBM","t":"2026-08-20 14","v":7.08},{"m":"NBM","t":"2026-08-20 17","v":6.63},{"m":"NBM","t":"2026-08-20 20","v":1.65},{"m":"NBM","t":"2026-08-20 23","v":2.62},
      {"m":"NBM","t":"2026-08-21 02","v":1.94},{"m":"NBM","t":"2026-08-21 05","v":1.65},{"m":"NBM","t":"2026-08-21 08","v":2.38},{"m":"NBM","t":"2026-08-21 11","v":6.95},{"m":"NBM","t":"2026-08-21 14","v":7.95},{"m":"NBM","t":"2026-08-21 17","v":7.84},{"m":"NBM","t":"2026-08-21 20","v":3.59},{"m":"NBM","t":"2026-08-21 23","v":4.69},
      {"m":"NBM","t":"2026-08-22 02","v":2.72},{"m":"NBM","t":"2026-08-22 05","v":1.58},{"m":"NBM","t":"2026-08-22 08","v":3.59},{"m":"NBM","t":"2026-08-22 11","v":7.27},{"m":"NBM","t":"2026-08-22 14","v":8.0},{"m":"NBM","t":"2026-08-22 17","v":6.82},{"m":"NBM","t":"2026-08-22 20","v":3.28},{"m":"NBM","t":"2026-08-22 23","v":2.07},
      {"m":"NBM","t":"2026-08-23 02","v":0.16},{"m":"NBM","t":"2026-08-23 05","v":0.08},{"m":"NBM","t":"2026-08-23 08","v":1.65},{"m":"NBM","t":"2026-08-23 11","v":4.49},{"m":"NBM","t":"2026-08-23 14","v":6.38},{"m":"NBM","t":"2026-08-23 17","v":6.25},{"m":"NBM","t":"2026-08-23 20","v":2.62},{"m":"NBM","t":"2026-08-23 23","v":0.73},
      {"m":"NBM","t":"2026-08-24 02","v":0.08},{"m":"NBM","t":"2026-08-24 05","v":0.08},{"m":"NBM","t":"2026-08-24 08","v":1.26},{"m":"NBM","t":"2026-08-24 11","v":3.67},{"m":"NBM","t":"2026-08-24 14","v":5.58},{"m":"NBM","t":"2026-08-24 17","v":5.71},{"m":"NBM","t":"2026-08-24 20","v":2.8},{"m":"NBM","t":"2026-08-24 23","v":1.26}
    ]
  },
  "layer": [
    {
      "mark": {"type": "point", "filled": true, "opacity": 1, "strokeWidth": 0},
      "encoding": {
        "x": {
          "field": "t", "type": "temporal",
          "scale": {"type": "utc", "domain": [{"year": 2026, "month": 8, "date": 16, "utc": true}, {"year": 2026, "month": 8, "date": 25, "utc": true}]},
          "axis": {"orient": "bottom", "title": "Date", "format": "%m/%d", "tickCount": {"interval": "day", "step": 1}, "labelPadding": 26, "titlePadding": 20, "labelFlush": false, "labelOverlap": false}
        },
        "y": {
          "field": "v", "type": "quantitative",
          "scale": {"domain": [0, 40], "nice": false},
          "axis": {"orient": "left", "title": "20-ft wind speed (mph)", "values": [0, 5, 10, 15, 20, 25, 30, 35, 40], "labelPadding": 24, "titlePadding": 26}
        },
        "color": {
          "field": "m", "type": "nominal",
          "scale": {"domain": ["ECMWF", "HRRR", "NAM 3 km", "NAM 12 km", "GFS 0.125°", "GFS 0.250°", "NBM"], "range": ["#0000cd", "#006400", "#ff0000", "#000000", "#c0c0c0", "#87ceeb", "#ffa500"]},
          "legend": {"title": null, "orient": "none", "legendX": 1269, "legendY": 13, "padding": 0, "labelFont": "DejaVu Sans", "labelFontSize": 24, "labelColor": "black", "labelAlign": "right", "labelOffset": -64, "rowPadding": 4, "symbolStrokeWidth": 0}
        },
        "shape": {
          "field": "m", "type": "nominal",
          "scale": {"domain": ["ECMWF", "HRRR", "NAM 3 km", "NAM 12 km", "GFS 0.125°", "GFS 0.250°", "NBM"], "range": ["square", "circle", "triangle-up", "triangle-down", "diamond", "M0,-1L0.951,-0.309L0.588,0.809L-0.588,0.809L-0.951,-0.309Z", "M-1,-0.11L1,-0.11L1,0.11L-1,0.11Z M-0.11,-1L0.11,-1L0.11,1L-0.11,1Z M-0.629,-0.785L0.785,0.629L0.629,0.785L-0.785,-0.629Z M-0.785,0.629L0.629,-0.785L0.785,-0.629L-0.629,0.785Z"]}
        },
        "size": {
          "field": "m", "type": "nominal",
          "scale": {"domain": ["ECMWF", "HRRR", "NAM 3 km", "NAM 12 km", "GFS 0.125°", "GFS 0.250°", "NBM"], "range": [95, 135, 140, 140, 110, 160, 190]}
        }
      }
    },
    {
      "mark": {"type": "point", "opacity": 0},
      "encoding": {
        "x": {"field": "t", "type": "temporal", "axis": {"orient": "top", "title": null, "labels": false, "tickCount": {"interval": "day", "step": 1}}},
        "y": {"field": "v", "type": "quantitative", "axis": {"orient": "right", "title": null, "labels": false, "values": [0, 5, 10, 15, 20, 25, 30, 35, 40]}}
      }
    }
  ],
  "resolve": {"axis": {"x": "independent", "y": "independent"}}
}
